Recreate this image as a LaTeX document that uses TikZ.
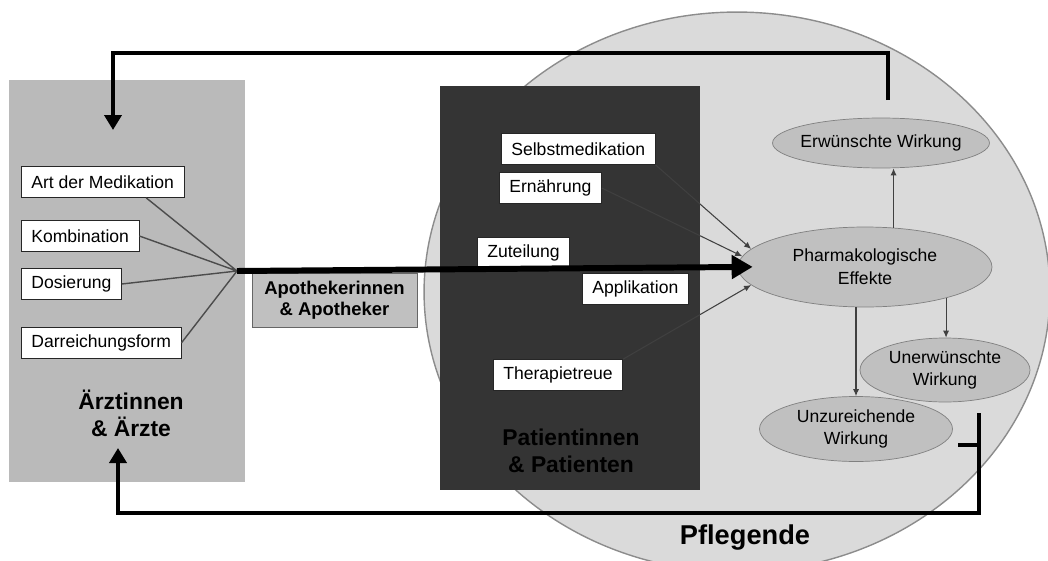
\documentclass[tikz,border=0pt]{standalone}
\usepackage{fontspec}
\setmainfont{Liberation Sans}
\usetikzlibrary{arrows.meta,shapes.geometric}
\definecolor{arztgrau}{RGB}{186,186,186}
\definecolor{pflegegrau}{RGB}{218,218,218}
\definecolor{patientgrau}{RGB}{52,52,52}
\definecolor{effektgrau}{RGB}{192,192,192}
\tikzset{
  faktor/.style={draw=black!85, fill=white, font=\fontsize{10}{12}\selectfont,
    inner xsep=0.2cm, inner ysep=0pt, minimum height=0.62cm, anchor=west},
  wirkung/.style={ellipse, draw=black!50, fill=effektgrau, align=center,
    font=\fontsize{10}{13}\selectfont, inner xsep=-3cm, inner ysep=-3cm},
  einfluss/.style={draw=black!75, line width=0.6pt, -{Latex[length=4pt,width=3.5pt]}},
  rueck/.style={line width=2.4pt, -{Triangle[length=0.3cm,width=0.34cm]}},
  gruppe/.style={font=\fontsize{13}{15.3}\selectfont\bfseries, align=center},
}
\begin{document}
\begin{tikzpicture}[x=0.02cm, y=-0.02cm]
  \clip (0,0) rectangle (1048,561);
  % Bereiche
  \draw[fill=pflegegrau, draw=black!45, line width=0.8pt] (737,292) ellipse [x radius=6.26cm, y radius=5.6cm];
  \fill[arztgrau] (9,80) rectangle (245,482);
  \fill[patientgrau] (440,86) rectangle (700,490);

  % Aerztinnen & Aerzte
  \node[faktor] (art) at (21,182) {Art der Medikation};
  \node[faktor] (komb) at (21,236) {Kombination};
  \node[faktor] (dos) at (21,284) {Dosierung};
  \node[faktor] (darr) at (21,343) {Darreichungsform};
  \node[gruppe] (aerzte) at (131,413) {Ärztinnen\\\& Ärzte};

  \node[draw=black!60, fill=effektgrau, minimum width=3.3cm, minimum height=1.08cm,
    font=\fontsize{10.5}{12}\selectfont\bfseries, align=center] (apo) at (334.5,300) {Apothekerinnen\\\& Apotheker};

  % Patientinnen & Patienten
  \node[faktor] (selbst) at (501,149) {Selbstmedikation};
  \node[faktor] (ern) at (499,188) {Ernährung};
  \node[faktor] (zut) at (477,253) {Zuteilung};
  \node[faktor] (appl) at (582,289) {Applikation};
  \node[faktor] (ther) at (493,375) {Therapietreue};
  \node[gruppe, text=black] (patienten) at (571,451) {Patientinnen\\\& Patienten};

  % Wirkungen
  \node[wirkung, minimum width=5.08cm, minimum height=1.6cm] (pharm) at (865,267) {Pharmakologische\\Effekte};
  \node[wirkung, minimum width=4.34cm, minimum height=1cm] (erw) at (881,143) {Erwünschte Wirkung};
  \node[wirkung, minimum width=3.4cm, minimum height=1.28cm] (unerw) at (945,370) {Unerwünschte\\Wirkung};
  \node[wirkung, minimum width=3.86cm, minimum height=1.3cm] (unzur) at (856,429) {Unzureichende\\Wirkung};
  \node[font=\fontsize{15.5}{18}\selectfont\bfseries] (pflege) at (745,538) {Pflegende};

  % Verbindungen
  \coordinate (hub) at (237,271);
  \draw[black!70, line width=0.8pt] (art.-20) -- (hub) (komb.east) -- (hub)
    (dos.east) -- (hub) (darr.east) -- (hub);
  \draw[line width=3.4pt, -{Triangle[length=0.42cm,width=0.46cm]}, shorten >=-0.3cm] (hub) -- (pharm.west);
  \draw[einfluss] (selbst.south east) -- (pharm.171);
  \draw[einfluss] (ern.east) -- (pharm.175);
  \draw[einfluss] (ther.north east) -- (pharm.189);
  \draw[einfluss] (pharm.54) -- (pharm.54 |- erw.south);
  \draw[einfluss] (pharm.-21) -- (pharm.-21 |- unerw.north);
  \draw[einfluss] (pharm.south -| unzur.north) -- (unzur.north);

  % Rueckkopplung
  \coordinate (oben) at (888,100);
  \coordinate (obenziel) at (113,130);
  \draw[rueck] (oben) -- ++(0,-47) -| (obenziel);
  \coordinate (unzstub) at (958,445);
  \coordinate (klammer) at (979,413);
  \coordinate (untenziel) at (118,448);
  \draw[line width=2.4pt] (unzstub) -- (unzstub -| klammer);
  \draw[rueck] (klammer) -- ++(0,100) -| (untenziel);
\end{tikzpicture}
\end{document}
